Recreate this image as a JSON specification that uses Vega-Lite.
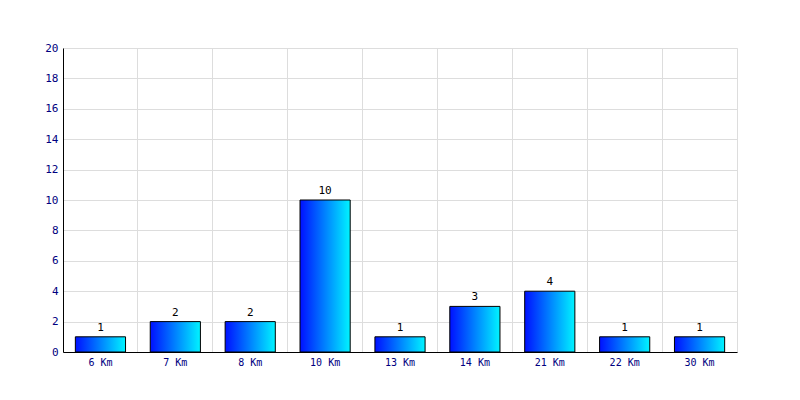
{
  "$schema": "https://vega.github.io/schema/vega-lite/v6.json",
  "width": 674,
  "height": 304,
  "autosize": "none",
  "padding": {"left": 63, "top": 48, "right": 63, "bottom": 48},
  "background": "white",
  "config": {
    "view": {"stroke": "#dddddd", "strokeWidth": 1},
    "font": "DejaVu Sans Mono"
  },
  "data": {
    "values": [
      {"dist": "6 Km", "count": 1},
      {"dist": "7 Km", "count": 2},
      {"dist": "8 Km", "count": 2},
      {"dist": "10 Km", "count": 10},
      {"dist": "13 Km", "count": 1},
      {"dist": "14 Km", "count": 3},
      {"dist": "21 Km", "count": 4},
      {"dist": "22 Km", "count": 1},
      {"dist": "30 Km", "count": 1}
    ]
  },
  "encoding": {
    "x": {
      "field": "dist", "type": "nominal", "sort": null,
      "scale": {"paddingInner": 0, "paddingOuter": 0},
      "axis": {
        "title": null, "labelAngle": 0, "labelColor": "#000080", "labelFont": "DejaVu Sans Mono",
        "labelFontSize": 10, "labelPadding": 5, "ticks": false, "domainColor": "#000000",
        "grid": true, "gridColor": "#dddddd", "bandPosition": 0, "labelBound": false
      }
    },
    "y": {
      "field": "count", "type": "quantitative",
      "scale": {"domain": [0, 20], "nice": false},
      "axis": {
        "title": null, "values": [0, 2, 4, 6, 8, 10, 12, 14, 16, 18, 20],
        "labelColor": "#000080", "labelFont": "DejaVu Sans Mono", "labelFontSize": 11,
        "ticks": false, "labelPadding": 5, "domainColor": "#000000",
        "gridColor": "#dddddd"
      }
    }
  },
  "layer": [
    {
      "mark": {
        "type": "bar", "stroke": "#000000", "strokeWidth": 1,
        "width": {"band": 0.67},
        "color": {
          "gradient": "linear", "x1": 0, "x2": 1, "y1": 0, "y2": 0,
          "stops": [{"offset": 0, "color": "#0010ff"}, {"offset": 1, "color": "#00f4ff"}]
        }
      }
    },
    {
      "mark": {"type": "text", "dy": -9, "color": "#000000", "fontSize": 11, "font": "DejaVu Sans Mono"},
      "encoding": {"text": {"field": "count", "type": "quantitative"}}
    }
  ]
}
